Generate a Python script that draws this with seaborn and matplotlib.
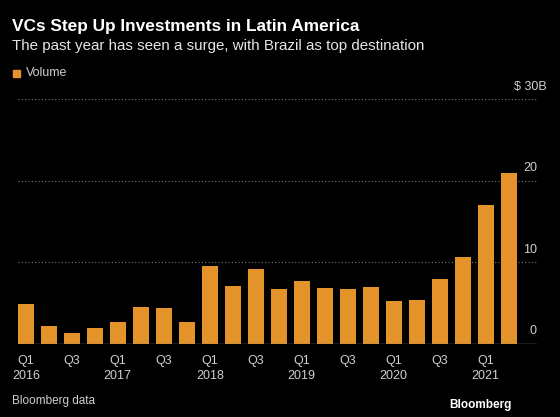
import pandas as pd
import seaborn as sns
import matplotlib.pyplot as plt

quarters = ["Q1 2016", "Q2 2016", "Q3 2016", "Q4 2016",
            "Q1 2017", "Q2 2017", "Q3 2017", "Q4 2017",
            "Q1 2018", "Q2 2018", "Q3 2018", "Q4 2018",
            "Q1 2019", "Q2 2019", "Q3 2019", "Q4 2019",
            "Q1 2020", "Q2 2020", "Q3 2020", "Q4 2020",
            "Q1 2021", "Q2 2021"]
volume = [4.9, 2.2, 1.4, 2.0, 2.7, 4.5, 4.4, 2.7, 9.6, 7.1, 9.2, 6.7,
          7.7, 6.9, 6.8, 7.0, 5.3, 5.4, 8.0, 10.7, 17.1, 21.0]
tick_labels = ["Q1\n2016", "Q3", "Q1\n2017", "Q3", "Q1\n2018", "Q3",
               "Q1\n2019", "Q3", "Q1\n2020", "Q3", "Q1\n2021"]
y_ticks = [0, 10, 20, 30]
y_labels = ["0", "10", "20", "$ 30B"]

bar_col = "#e4922a"
txt_col = "#cfcfcf"
bg = "#000000"

df = pd.DataFrame({"quarter": quarters, "volume": volume})

sns.set_style("dark")
plt.rcParams["font.family"] = ["Liberation Sans", "DejaVu Sans"]

fig = plt.figure(figsize=(5.6, 4.17), dpi=100, facecolor=bg)
ax = fig.add_axes([18 / 560, 1 - 344 / 417, (537 - 18) / 560, (344 - 99.3) / 417])
ax.set_facecolor(bg)

sns.barplot(data=df, x="quarter", y="volume", color=bar_col, width=0.68,
            saturation=1, linewidth=0, ax=ax, zorder=3)

ax.set_xlim(-0.34, 22.23)
ax.set_ylim(0, 30)
for s in ax.spines.values():
    s.set_visible(False)
ax.axhline(0, color="#8a8a8a", lw=1, zorder=4)
for v in y_ticks[1:]:
    ax.axhline(v, color="#777777", lw=0.8, ls=(0, (1, 2)), zorder=1)
ax.grid(False)

ax.set_xticks(range(0, len(quarters), 2))
ax.set_xticklabels(tick_labels, color=txt_col, fontsize=9, linespacing=1.3)
ax.tick_params(axis="x", length=4, width=1, color="#8a8a8a", pad=4)
ax.set_yticks([])
ax.set_xlabel("")
ax.set_ylabel("")

for v, lab in zip(y_ticks, y_labels):
    xx = 1.0 + (10 / 519 if lab.endswith("B") else 0)
    ax.text(xx, v + 0.8, lab, transform=ax.get_yaxis_transform(),
            ha="right", va="bottom", color=txt_col, fontsize=9)

fig.text(12 / 560, 1 - 27 / 417, "VCs Step Up Investments in Latin America",
         color="white", fontsize=12.4, fontweight="bold", va="center")
fig.text(12 / 560, 1 - 46 / 417,
         "The past year has seen a surge, with Brazil as top destination",
         color="#e6e6e6", fontsize=10.9, va="center")
fig.patches.append(plt.Rectangle((13 / 560, 1 - 76.5 / 417), 7 / 560, 7 / 417,
                                 transform=fig.transFigure, color=bar_col))
fig.text(26 / 560, 1 - 73 / 417, "Volume", color=txt_col, fontsize=9, va="center")
fig.text(12 / 560, 1 - 401 / 417, "Bloomberg data", color=txt_col, fontsize=8.5, va="center")
fig.text(512 / 560, 1 - 405 / 417, "Bloomberg", color="white", fontsize=8.5,
         fontweight="bold", ha="right", va="center")

fig.savefig("out.png", dpi=100, facecolor=bg)
